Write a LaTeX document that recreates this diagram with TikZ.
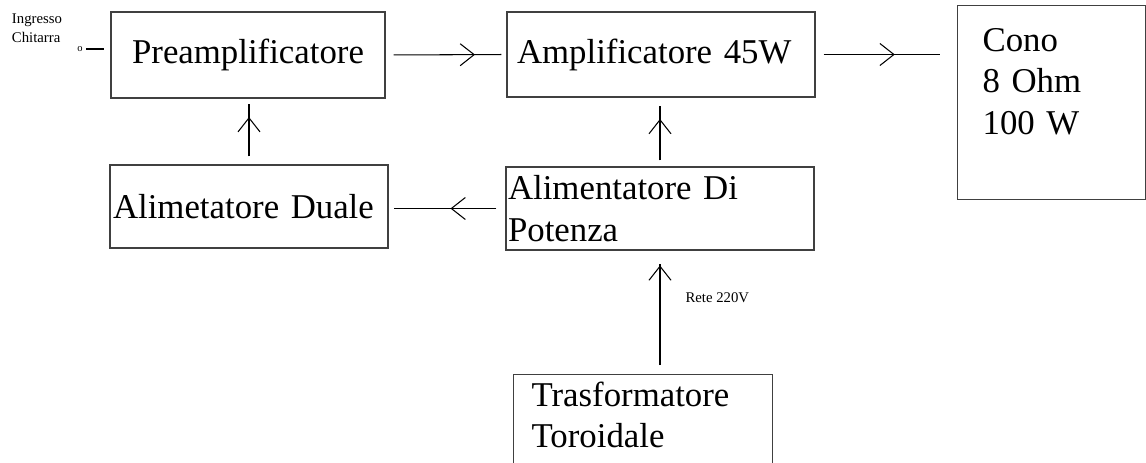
\documentclass[tikz,border=0pt]{standalone}
\usepackage{fontspec}
\setmainfont{Liberation Serif}
\usetikzlibrary{arrows.meta,decorations.markings}

\begin{document}
\begin{tikzpicture}[x=0.02cm, y=-0.02cm,
    blk/.style={rectangle, draw=black!75, line width=0.7pt, inner sep=0pt,
                font=\fontsize{19.8}{23.5}\selectfont},
    lbl/.style={inner sep=0pt, align=left, font=\fontsize{8.4}{10.8}\selectfont},
    flow/.style={line width=0.6pt, postaction={decorate, decoration={markings,
                 mark=at position #1 with {\arrow{Straight Barb[length=2.8mm,width=4.4mm]}}}}}
  ]
    \useasboundingbox (0,0) rectangle (1146,463);

    % Signal chain
    \node[blk, minimum width=5.48cm, minimum height=1.72cm, align=center] (preamp) at (248,55) {Preamplificatore};
    \node[blk, minimum height=1.70cm, text width=5.76cm, align=left, inner xsep=0.2cm] (amp) at (661,54.5) {Amplificatore 45W};
    \node[blk, anchor=north west, text width=2.76cm, align=left, inner xsep=0.5cm, inner ysep=0.46cm,
          text depth=2.5cm] (cono) at (957,5) {Cono\\8 Ohm\\100 W};

    % Power supplies
    \node[blk, minimum height=1.66cm, text width=5.44cm, align=left, inner xsep=0.06cm] (duale) at (249,206.5) {Alimetatore Duale};
    \node[blk, minimum height=1.66cm, text width=6.08cm, align=left, inner xsep=0.04cm] (potenza) at (660,208.5) {Alimentatore Di\\Potenza};
    \node[blk, anchor=north west, text width=4.46cm, align=left, inner xsep=0.36cm, inner ysep=0.14cm,
          text depth=1.36cm] (trasf) at (513,374) {Trasformatore\\Toroidale};

    % Input
    \node[lbl] (ingresso) at (37,28) {Ingresso\\Chitarra};
    \node[inner sep=0pt, font=\fontsize{6}{7}\selectfont] (jack) at (80,49) {o};
    \draw[line width=0.6pt, shorten <=0.7mm, shorten >=1.2mm] (jack.east) -- (jack.east -| preamp.west);

    % Connections
    \draw[flow=0.74, shorten <=1.6mm, shorten >=1mm] (preamp.east) -- (amp.west);
    \draw[flow=0.56, shorten <=1.6mm, shorten >=3.4mm] (amp.east) -- (amp.east -| cono.west);
    \draw[flow=0.47, shorten <=1.8mm, shorten >=1mm] (potenza.west) -- (potenza.west -| duale.east);
    \draw[flow=0.69, shorten <=1.2mm, shorten >=1.6mm] (potenza.north) -- (potenza.north |- amp.south);
    \draw[flow=0.72, shorten <=1.6mm, shorten >=1mm] (duale.north) -- (duale.north |- preamp.south);
    \draw[flow=0.88, shorten <=1.8mm, shorten >=2.6mm] (potenza.south |- trasf.north) -- (potenza.south)
      node[lbl, pos=0.62, anchor=west, xshift=0.5cm] (rete) {Rete 220V};
\end{tikzpicture}
\end{document}
